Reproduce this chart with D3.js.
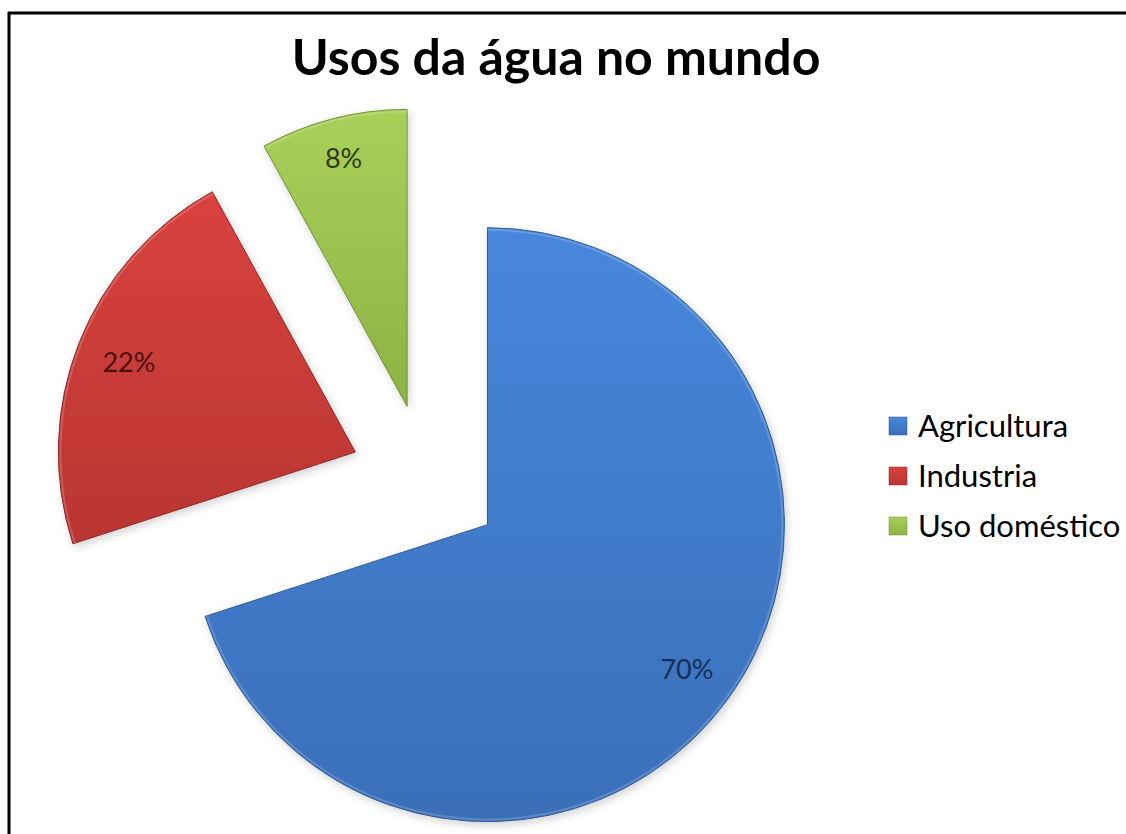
<!DOCTYPE html>
<html>
<head>
<meta charset="utf-8">
<script src="https://cdn.jsdelivr.net/npm/d3@7"></script>
<style>
  html, body { margin: 0; padding: 0; background: #fff; }
  svg { display: block; }
</style>
</head>
<body>
<div id="chart"></div>
<script>
// data
const categories = ['Agricultura', 'Industria', 'Uso doméstico'];
const values = [70, 22, 8];
const labels = ['70%', '22%', '8%'];

const W = 1126, H = 834;
const colorsTop = ['#4787dc', '#d9423e', '#a9d05a'];
const colorsBot = ['#3a6fb8', '#b93532', '#8cb244'];
const stroke = ['#2f5b98', '#8e2825', '#6f8f33'];
const labelColors = ['#152f57', '#4a0f0e', '#2c3a10'];

const svg = d3.select('#chart').append('svg')
  .attr('width', W)
  .attr('height', H);

const defs = svg.append('defs');
categories.forEach((c, i) => {
  const g = defs.append('linearGradient')
    .attr('id', 'grad' + i)
    .attr('x1', 0).attr('y1', 0).attr('x2', 0).attr('y2', 1);
  g.append('stop').attr('offset', '0%').attr('stop-color', colorsTop[i]);
  g.append('stop').attr('offset', '100%').attr('stop-color', colorsBot[i]);
});
const shadow = defs.append('filter').attr('id', 'shadow')
  .attr('x', '-20%').attr('y', '-20%').attr('width', '140%').attr('height', '140%');
shadow.append('feDropShadow')
  .attr('dx', 2).attr('dy', 3).attr('stdDeviation', 4)
  .attr('flood-color', '#000').attr('flood-opacity', 0.18);

// frame (top and left only)
svg.append('line')
  .attr('x1', 8).attr('x2', W).attr('y1', 13).attr('y2', 13)
  .attr('stroke', '#000').attr('stroke-width', 3);
svg.append('line')
  .attr('x1', 9).attr('x2', 9).attr('y1', 12).attr('y2', H)
  .attr('stroke', '#000').attr('stroke-width', 3);

// title
svg.append('text')
  .attr('x', 556)
  .attr('y', 75)
  .attr('text-anchor', 'middle')
  .style('font-family', 'Lato, "Open Sans", sans-serif')
  .style('font-weight', 'bold')
  .style('font-size', '50px')
  .attr('fill', '#000')
  .text('Usos da água no mundo');

// pie
const cx = 426, cy = 480;
const radius = 297;
const explode = 76;

const pie = d3.pie().sort(null).value(d => d)
  .startAngle(0).endAngle(2 * Math.PI);
const arc = d3.arc().innerRadius(0).outerRadius(radius);
const rim = d3.arc().innerRadius(radius - 3).outerRadius(radius - 1);

const arcs = pie(values);

const g = svg.append('g').attr('transform', `translate(${cx},${cy})`);

const slice = g.selectAll('.slice')
  .data(arcs)
  .enter().append('g')
  .attr('class', 'slice')
  .attr('transform', d => {
    const a = (d.startAngle + d.endAngle) / 2;
    return `translate(${Math.sin(a) * explode},${-Math.cos(a) * explode})`;
  });

slice.append('path')
  .attr('d', arc)
  .attr('fill', (d, i) => `url(#grad${i})`)
  .attr('stroke', (d, i) => stroke[i])
  .attr('stroke-width', 1)
  .attr('filter', 'url(#shadow)');

// light bevel on the rim
slice.append('path')
  .attr('d', rim)
  .attr('fill', '#fff')
  .attr('opacity', 0.18);

const labelFactor = [0.83, 0.82, 0.86];
slice.append('text')
  .attr('x', (d, i) => Math.sin((d.startAngle + d.endAngle) / 2) * radius * labelFactor[i])
  .attr('y', (d, i) => -Math.cos((d.startAngle + d.endAngle) / 2) * radius * labelFactor[i])
  .attr('dy', '0.35em')
  .attr('text-anchor', 'middle')
  .style('font-family', 'Lato, "Open Sans", sans-serif')
  .style('font-size', '27px')
  .attr('fill', (d, i) => labelColors[i])
  .text((d, i) => labels[i]);

// legend
const legend = svg.append('g').attr('transform', 'translate(889,426)');
const item = legend.selectAll('.item')
  .data(categories)
  .enter().append('g')
  .attr('class', 'item')
  .attr('transform', (d, i) => `translate(0,${i * 50})`);

item.append('rect')
  .attr('x', 0).attr('y', -9)
  .attr('width', 18).attr('height', 18)
  .attr('fill', (d, i) => `url(#grad${i})`)
  .attr('stroke', (d, i) => stroke[i])
  .attr('stroke-width', 0.5);

item.append('text')
  .attr('x', 29)
  .attr('y', 0)
  .attr('dy', '0.35em')
  .style('font-family', 'Lato, "Open Sans", sans-serif')
  .style('font-size', '31px')
  .attr('fill', '#000')
  .text(d => d);
</script>
</body>
</html>
